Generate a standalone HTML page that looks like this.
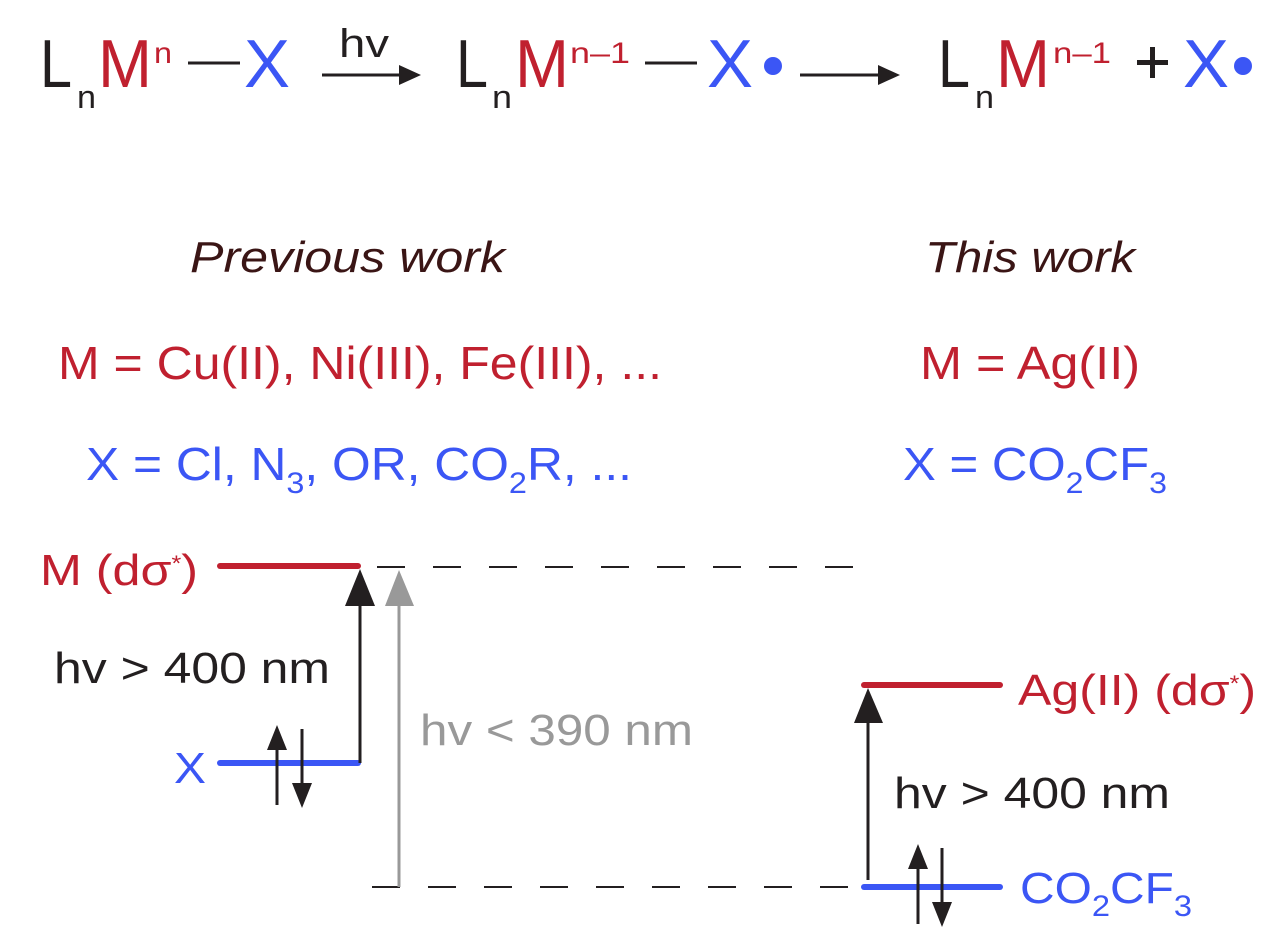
<!DOCTYPE html>
<html><head><style>html,body{margin:0;padding:0;background:#fff;}svg{display:block}</style></head>
<body>
<svg width="1277" height="943" viewBox="0 0 1277 943" xmlns="http://www.w3.org/2000/svg" font-family="Liberation Sans, Arial, sans-serif">
<!-- Top equation -->
<g font-size="68">
<text x="40" y="87" fill="#231f20" textLength="32" lengthAdjust="spacingAndGlyphs">L</text>
<text x="77" y="108" font-size="32" fill="#231f20" textLength="19" lengthAdjust="spacingAndGlyphs">n</text>
<text x="98" y="87" fill="#c0202f" textLength="54" lengthAdjust="spacingAndGlyphs">M</text>
<text x="154" y="63" font-size="30" fill="#c0202f" textLength="18" lengthAdjust="spacingAndGlyphs">n</text>
<line x1="188" y1="63" x2="240" y2="63" stroke="#231f20" stroke-width="3"/>
<text x="244" y="87" fill="#3b56f5" textLength="46" lengthAdjust="spacingAndGlyphs">X</text>
<line x1="322" y1="75" x2="406" y2="75" stroke="#231f20" stroke-width="3"/>
<polygon points="421,75 399,65 399,85" fill="#231f20"/>
<text x="339" y="57" font-size="40" fill="#231f20" textLength="50" lengthAdjust="spacingAndGlyphs">hv</text>

<text x="456" y="87" fill="#231f20" textLength="32" lengthAdjust="spacingAndGlyphs">L</text>
<text x="492" y="108" font-size="32" fill="#231f20" textLength="20" lengthAdjust="spacingAndGlyphs">n</text>
<text x="515" y="87" fill="#c0202f" textLength="54" lengthAdjust="spacingAndGlyphs">M</text>
<text x="570" y="63" font-size="30" fill="#c0202f" textLength="60" lengthAdjust="spacingAndGlyphs">n–1</text>
<line x1="645" y1="63" x2="697" y2="63" stroke="#231f20" stroke-width="3"/>
<text x="707" y="87" fill="#3b56f5" textLength="46" lengthAdjust="spacingAndGlyphs">X</text>
<circle cx="773" cy="66" r="9" fill="#3b56f5"/>
<line x1="800" y1="75" x2="885" y2="75" stroke="#231f20" stroke-width="3"/>
<polygon points="900,75 878,65 878,85" fill="#231f20"/>

<text x="938" y="87" fill="#231f20" textLength="32" lengthAdjust="spacingAndGlyphs">L</text>
<text x="975" y="108" font-size="32" fill="#231f20" textLength="19" lengthAdjust="spacingAndGlyphs">n</text>
<text x="996" y="87" fill="#c0202f" textLength="54" lengthAdjust="spacingAndGlyphs">M</text>
<text x="1053" y="63" font-size="30" fill="#c0202f" textLength="58" lengthAdjust="spacingAndGlyphs">n–1</text>
<rect x="1137" y="60" width="31" height="5" fill="#231f20"/>
<rect x="1150" y="47" width="5" height="31" fill="#231f20"/>
<text x="1183" y="87" fill="#3b56f5" textLength="46" lengthAdjust="spacingAndGlyphs">X</text>
<circle cx="1243" cy="66" r="9" fill="#3b56f5"/>
</g>

<!-- headings -->
<text x="190" y="272" font-size="44" font-style="italic" fill="#3a1515" textLength="315" lengthAdjust="spacingAndGlyphs">Previous work</text>
<text x="925" y="272" font-size="44" font-style="italic" fill="#3a1515" textLength="210" lengthAdjust="spacingAndGlyphs">This work</text>
<g font-size="46">
<text x="58" y="379" fill="#c0202f" textLength="604" lengthAdjust="spacingAndGlyphs">M = Cu(II), Ni(III), Fe(III), ...</text>
<text x="920" y="379" fill="#c0202f" textLength="220" lengthAdjust="spacingAndGlyphs">M = Ag(II)</text>
<text x="86" y="480" fill="#3b56f5" textLength="546" lengthAdjust="spacingAndGlyphs">X = Cl, N<tspan font-size="30" dy="13">3</tspan><tspan dy="-13">, OR, CO</tspan><tspan font-size="30" dy="13">2</tspan><tspan dy="-13">R, ...</tspan></text>
<text x="903" y="480" fill="#3b56f5" textLength="264" lengthAdjust="spacingAndGlyphs">X = CO<tspan font-size="30" dy="13">2</tspan><tspan dy="-13">CF</tspan><tspan font-size="30" dy="13">3</tspan></text>
</g>

<!-- dashed lines -->
<line x1="377" y1="567" x2="855" y2="567" stroke="#231f20" stroke-width="2" stroke-dasharray="28,28"/>
<line x1="372" y1="887" x2="858" y2="887" stroke="#231f20" stroke-width="2" stroke-dasharray="28,28"/>

<g font-size="44">
<text x="40" y="585" fill="#c0202f" textLength="158" lengthAdjust="spacingAndGlyphs">M (dσ<tspan font-size="22" dy="-14">*</tspan><tspan dy="14">)</tspan></text>
<text x="54" y="683" fill="#231f20" textLength="276" lengthAdjust="spacingAndGlyphs">hv &gt; 400 nm</text>
<text x="174" y="783" fill="#3b56f5" textLength="32" lengthAdjust="spacingAndGlyphs">X</text>
<text x="420" y="745" fill="#999" textLength="273" lengthAdjust="spacingAndGlyphs">hv &lt; 390 nm</text>
<text x="1018" y="705" fill="#c0202f" textLength="238" lengthAdjust="spacingAndGlyphs">Ag(II) (dσ<tspan font-size="22" dy="-14">*</tspan><tspan dy="14">)</tspan></text>
<text x="894" y="808" fill="#231f20" textLength="276" lengthAdjust="spacingAndGlyphs">hv &gt; 400 nm</text>
<text x="1020" y="903" fill="#3b56f5" textLength="172" lengthAdjust="spacingAndGlyphs">CO<tspan font-size="30" dy="13">2</tspan><tspan dy="-13">CF</tspan><tspan font-size="30" dy="13">3</tspan></text>
</g>

<line x1="220" y1="566" x2="358" y2="566" stroke="#c0202f" stroke-width="6" stroke-linecap="round"/>
<line x1="220" y1="763" x2="358" y2="763" stroke="#3b56f5" stroke-width="6" stroke-linecap="round"/>
<line x1="360" y1="763" x2="360" y2="590" stroke="#231f20" stroke-width="3"/>
<polygon points="360,569 345,606 375,606" fill="#231f20"/>
<line x1="399" y1="887" x2="399" y2="590" stroke="#999" stroke-width="3"/>
<polygon points="399,570 385,606 414,606" fill="#999"/>
<line x1="277" y1="805" x2="277" y2="740" stroke="#231f20" stroke-width="3"/>
<polygon points="277,725 267,750 287,750" fill="#231f20"/>
<line x1="302" y1="729" x2="302" y2="795" stroke="#231f20" stroke-width="3"/>
<polygon points="302,808 292,783 312,783" fill="#231f20"/>

<line x1="864" y1="685" x2="1000" y2="685" stroke="#c0202f" stroke-width="6" stroke-linecap="round"/>
<line x1="864" y1="887" x2="1000" y2="887" stroke="#3b56f5" stroke-width="6" stroke-linecap="round"/>
<line x1="868" y1="880" x2="868" y2="705" stroke="#231f20" stroke-width="3"/>
<polygon points="868,688 854,723 883,723" fill="#231f20"/>
<line x1="918" y1="924" x2="918" y2="860" stroke="#231f20" stroke-width="3"/>
<polygon points="918,844 908,869 928,869" fill="#231f20"/>
<line x1="942" y1="848" x2="942" y2="915" stroke="#231f20" stroke-width="3"/>
<polygon points="942,927 932,902 952,902" fill="#231f20"/>
</svg>
</body></html>
